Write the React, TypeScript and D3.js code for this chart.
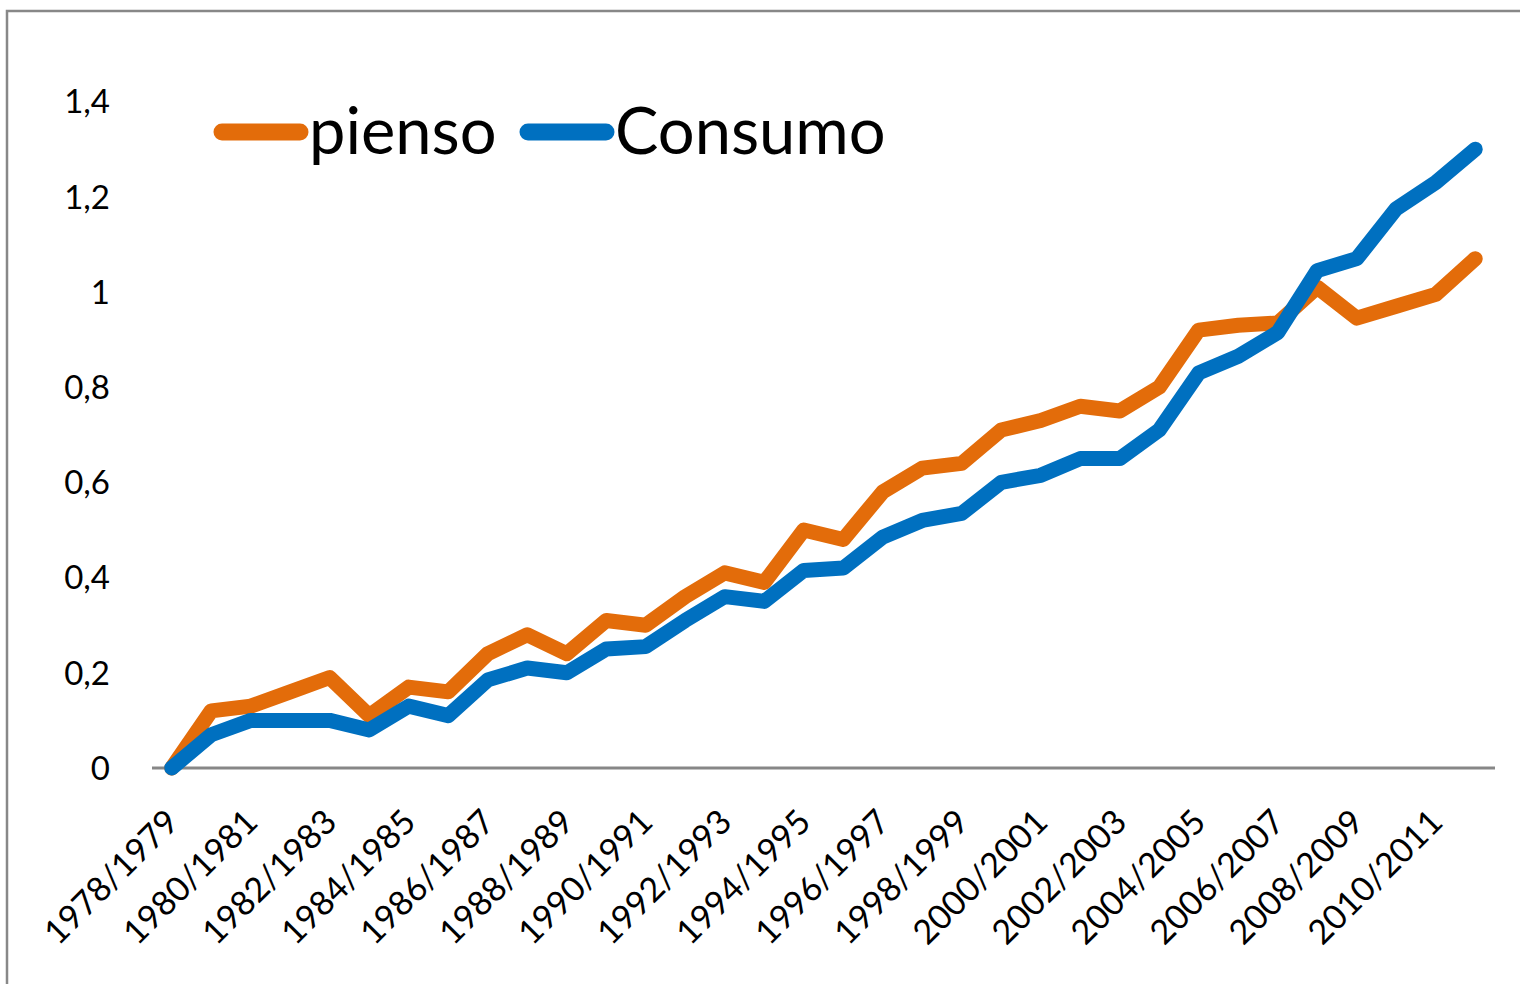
// PiensoConsumoChart.tsx
import React, { useEffect, useRef } from 'react';
import * as d3 from 'd3';

const categories = [
  '1978/1979', '1979/1980', '1980/1981', '1981/1982', '1982/1983', '1983/1984',
  '1984/1985', '1985/1986', '1986/1987', '1987/1988', '1988/1989', '1989/1990',
  '1990/1991', '1991/1992', '1992/1993', '1993/1994', '1994/1995', '1995/1996',
  '1996/1997', '1997/1998', '1998/1999', '1999/2000', '2000/2001', '2001/2002',
  '2002/2003', '2003/2004', '2004/2005', '2005/2006', '2006/2007', '2007/2008',
  '2008/2009', '2009/2010', '2010/2011', '2011/2012',
];

const pienso = [
  0, 0.12, 0.13, 0.16, 0.19, 0.11, 0.17, 0.16, 0.24, 0.28, 0.24, 0.31,
  0.3, 0.36, 0.41, 0.39, 0.5, 0.48, 0.58, 0.63, 0.64, 0.71, 0.73, 0.76,
  0.75, 0.8, 0.92, 0.93, 0.935, 1.01, 0.945, 0.97, 0.995, 1.07,
];

const consumo = [
  0, 0.07, 0.1, 0.1, 0.1, 0.08, 0.13, 0.11, 0.185, 0.21, 0.2, 0.25,
  0.255, 0.31, 0.36, 0.35, 0.415, 0.42, 0.485, 0.52, 0.535, 0.6, 0.615, 0.65,
  0.65, 0.71, 0.83, 0.865, 0.915, 1.045, 1.07, 1.175, 1.23, 1.3,
];

const yTicks = [0, 0.2, 0.4, 0.6, 0.8, 1, 1.2, 1.4];

const seriesNames = ['pienso', 'Consumo'];
const seriesColors = ['#E36C0A', '#0070C0'];

const App = () => {
  const chartRef = useRef<SVGSVGElement>(null);

  useEffect(() => {
    document.body.style.margin = '0';
    const svg = d3.select(chartRef.current);
    svg.selectAll('*').remove();

    const width = 1520;
    const height = 984;
    const font = 'Lato, "DejaVu Sans", sans-serif';

    // outer chart frame (runs off the right/bottom edges)
    svg
      .append('rect')
      .attr('x', 7)
      .attr('y', 11)
      .attr('width', width)
      .attr('height', height)
      .attr('fill', '#fff')
      .attr('stroke', '#888')
      .attr('stroke-width', 2.5);

    const x = d3.scalePoint<string>().domain(categories).range([152, 1495]).padding(0.5);
    const y = d3.scaleLinear().domain([0, 1.4]).range([768, 101.6]);

    const comma = d3.formatLocale({ decimal: ',', thousands: '.', grouping: [3], currency: ['', '€'] });
    const fmt = comma.format('~g');

    // y tick labels (no axis line in the original)
    svg
      .append('g')
      .selectAll('text')
      .data(yTicks)
      .enter()
      .append('text')
      .attr('x', 110)
      .attr('y', (d) => y(d))
      .attr('dy', '0.36em')
      .attr('text-anchor', 'end')
      .attr('font-family', font)
      .attr('font-size', 33)
      .attr('fill', '#000')
      .text((d) => fmt(d));

    // x axis line
    svg
      .append('line')
      .attr('x1', 152)
      .attr('x2', 1495)
      .attr('y1', y(0))
      .attr('y2', y(0))
      .attr('stroke', '#878787')
      .attr('stroke-width', 3);

    // x labels, every other category, rotated -45
    svg
      .append('g')
      .selectAll('text')
      .data(categories.filter((_, i) => i % 2 === 0))
      .enter()
      .append('text')
      .attr('transform', (d) => `translate(${(x(d) as number) - 3},${y(0) + 44}) rotate(-45)`)
      .attr('text-anchor', 'end')
      .attr('dy', '0.5em')
      .attr('font-family', font)
      .attr('font-size', 34)
      .attr('fill', '#000')
      .text((d) => d);

    // lines
    const line = d3
      .line<number>()
      .x((_, i) => x(categories[i]) as number)
      .y((d) => y(d));

    [pienso, consumo].forEach((values, k) => {
      svg
        .append('path')
        .datum(values)
        .attr('d', line)
        .attr('fill', 'none')
        .attr('stroke', seriesColors[k])
        .attr('stroke-width', 15)
        .attr('stroke-linejoin', 'round')
        .attr('stroke-linecap', 'round');
    });

    // legend
    const legendX = [222, 528];
    const legend = svg.append('g');
    seriesNames.forEach((name, k) => {
      legend
        .append('line')
        .attr('x1', legendX[k])
        .attr('x2', legendX[k] + 78)
        .attr('y1', 132)
        .attr('y2', 132)
        .attr('stroke', seriesColors[k])
        .attr('stroke-width', 17)
        .attr('stroke-linecap', 'round');
      legend
        .append('text')
        .attr('x', legendX[k] + 87)
        .attr('y', 154)
        .attr('font-family', font)
        .attr('font-size', 65)
        .attr('fill', '#000')
        .text(name);
    });
  }, []);

  return (
    <svg
      ref={chartRef}
      width={1520}
      height={984}
      style={{ position: 'absolute', left: 0, top: 0, display: 'block' }}
    />
  );
};

export default App;
